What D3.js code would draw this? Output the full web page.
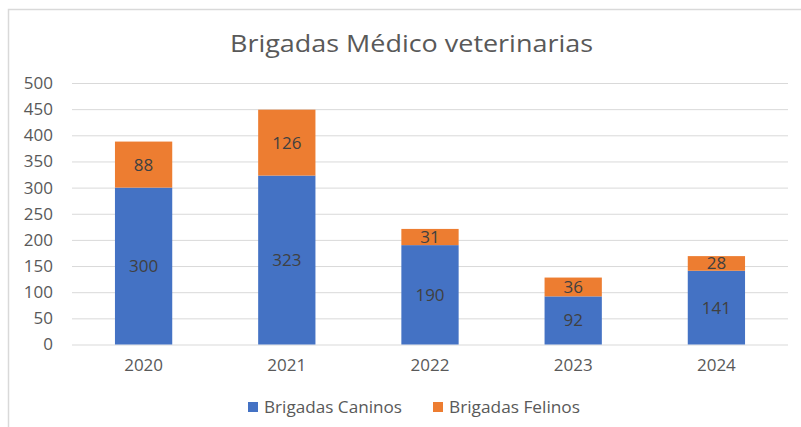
<!DOCTYPE html>
<html>
<head>
<meta charset="utf-8">
<script src="https://cdn.jsdelivr.net/npm/d3@7"></script>
<style>
  body { margin: 0; background: #fff; }
  text { font-family: "Open Sans", sans-serif; }
</style>
</head>
<body>
<div id="chart"></div>
<script>
var years = ["2020", "2021", "2022", "2023", "2024"];
var caninos = [300, 323, 190, 92, 141];
var felinos = [88, 126, 31, 36, 28];
var seriesNames = ["Brigadas Caninos", "Brigadas Felinos"];
var seriesColors = ["#4472C4", "#ED7D31"];
var yTicks = [0, 50, 100, 150, 200, 250, 300, 350, 400, 450, 500];

var svg_dx = 801,
  svg_dy = 427;

var svg = d3.select("#chart")
  .append("svg")
  .attr("width", svg_dx)
  .attr("height", svg_dy);

// chart frame (left + top edges only are visible)
svg.append("path")
  .attr("d", "M8.5," + svg_dy + "V9.5H" + svg_dx)
  .attr("fill", "none")
  .attr("stroke", "#d9d9d9")
  .attr("stroke-width", 1.5);

var xScale = d3.scaleBand()
  .domain(years)
  .range([72, 788])
  .paddingInner(0.6)
  .paddingOuter(0.3);

var yScale = d3.scaleLinear()
  .domain([0, 500])
  .range([344.5, 83]);

// title
svg.append("text")
  .attr("x", 230)
  .attr("y", 51.5)
  .attr("font-size", 23)
  .attr("fill", "#595959")
  .attr("textLength", 363)
  .attr("lengthAdjust", "spacingAndGlyphs")
  .text("Brigadas Médico veterinarias");

// gridlines + y labels
var axis_y = d3.axisLeft(yScale)
  .tickValues(yTicks)
  .tickSize(-(788 - 72))
  .tickPadding(19);

var gy = svg.append("g")
  .attr("transform", "translate(72,0)")
  .call(axis_y);
gy.select(".domain").remove();
gy.selectAll("line").attr("stroke", "#d9d9d9").attr("stroke-width", 1);
gy.selectAll("text")
  .attr("font-size", 17)
  .attr("fill", "#595959")
  .attr("font-family", "Open Sans, sans-serif");

// x labels
var axis_x = d3.axisBottom(xScale).tickSize(0).tickPadding(14);
var gx = svg.append("g")
  .attr("transform", "translate(0,344.5)")
  .call(axis_x);
gx.select(".domain").remove();
gx.selectAll("text")
  .attr("font-size", 17)
  .attr("fill", "#595959")
  .attr("font-family", "Open Sans, sans-serif");

// stacked bars
var rows = years.map(function(y, i) {
  return { year: y, caninos: caninos[i], felinos: felinos[i] };
});
var stack = d3.stack().keys(["caninos", "felinos"]);
var layers = stack(rows);

var groups = svg.append("g")
  .selectAll("g")
  .data(layers)
  .enter()
  .append("g")
  .attr("fill", function(d, i) { return seriesColors[i]; });

groups.selectAll("rect")
  .data(function(d) { return d; })
  .enter()
  .append("rect")
  .attr("x", function(d) { return xScale(d.data.year); })
  .attr("y", function(d) { return yScale(d[1]); })
  .attr("width", xScale.bandwidth())
  .attr("height", function(d) { return yScale(d[0]) - yScale(d[1]); });

groups.selectAll("text")
  .data(function(d) { return d; })
  .enter()
  .append("text")
  .attr("x", function(d) { return xScale(d.data.year) + xScale.bandwidth() / 2; })
  .attr("y", function(d) { return (yScale(d[0]) + yScale(d[1])) / 2; })
  .attr("dy", "0.35em")
  .attr("text-anchor", "middle")
  .attr("font-size", 17)
  .attr("fill", "#404040")
  .text(function(d) { return d[1] - d[0]; });

// legend
var legendX = [248, 433];
var legendLen = [138, 131];
var legend = svg.append("g")
  .selectAll("g")
  .data(seriesNames)
  .enter()
  .append("g")
  .attr("transform", function(d, i) { return "translate(" + legendX[i] + ",407)"; });

legend.append("rect")
  .attr("x", 0)
  .attr("y", -5)
  .attr("width", 10)
  .attr("height", 10)
  .attr("fill", function(d, i) { return seriesColors[i]; });

legend.append("text")
  .attr("x", 16)
  .attr("dy", "0.35em")
  .attr("font-size", 17)
  .attr("fill", "#595959")
  .attr("textLength", function(d, i) { return legendLen[i]; })
  .attr("lengthAdjust", "spacingAndGlyphs")
  .text(function(d) { return d; });
</script>
</body>
</html>
